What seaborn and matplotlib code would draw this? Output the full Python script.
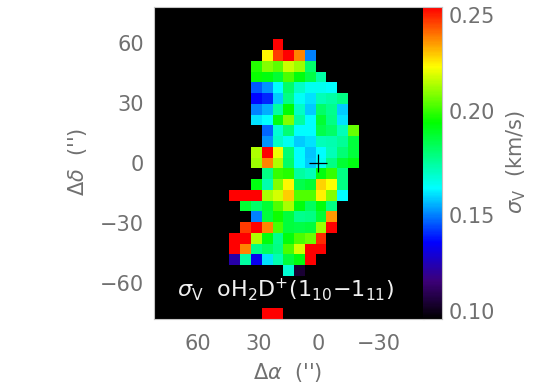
import numpy as np
import pandas as pd
import matplotlib
matplotlib.use("Agg")
import matplotlib.pyplot as plt
from matplotlib.colors import LinearSegmentedColormap
from matplotlib.ticker import FixedLocator, FixedFormatter
import seaborn as sns

# Map values (km/s), one list per row of the grid, top to bottom
row_03 = [.25]
row_04 = [.222, .243, .25, .235, .15]
row_05 = [.198, .208, .204, .216, .211, .181]
row_06 = [.195, .193, .188, .202, .193, .186, .174]
row_07 = [.146, .152, .163, .182, .170, .165, .165, .163]
row_08 = [.137, .141, .158, .178, .164, .160, .172, .174, .178]
row_09 = [.15, .155, .175, .194, .17, .158, .182, .177, .158]
row_10 = [.16, .163, .192, .208, .175, .163, .188, .178, .160]
row_11 = [.147, .168, .18, .163, .163, .185, .182, .172, .205]
row_12 = [.152, .170, .165, .158, .160, .172, .173, .176, .187]
row_13 = [.213, .25, .220, .18, .163, .157, .163, .172, .18, .187]
row_14 = [.211, .235, .213, .182, .163, .158, .165, .178, .188, .192]
row_15 = [.178, .2, .198, .175, .172, .193, .2, .178]
row_16 = [.192, .173, .208, .222, .185, .188, .226, .221, .178]
row_17 = [.25, .25, .25, .212, .217, .227, .203, .203, .223, .208, .163]
row_18 = [.188, .182, .188, .203, .212, .193, .183, .193, .178]
row_19 = [.15, .187, .196, .187, .177, .178, .188, .233]
row_20 = [.243, .25, .235, .202, .187, .186, .187, .211, .25]
row_21 = [.25, .25, .213, .193, .177, .193, .202, .206, .245]
row_22 = [.25, .235, .178, .183, .178, .202, .217, .25, .25]
row_23 = [.125, .175, .135, .16, .173, .187, .193, .25]
row_24 = [.168, .108]
row_28 = [.25, .25]

rows = [3, 4, 5, 6, 7, 8, 9, 10, 11, 12, 13, 14, 15, 16, 17, 18, 19, 20, 21, 22, 23, 24, 28]
first_col = [11, 10, 9, 9, 9, 9, 9, 9, 10, 10, 9, 9, 10, 9, 7, 8, 9, 8, 7, 7, 7, 12, 10]
values = [row_03, row_04, row_05, row_06, row_07, row_08, row_09, row_10, row_11, row_12,
          row_13, row_14, row_15, row_16, row_17, row_18, row_19, row_20, row_21, row_22,
          row_23, row_24, row_28]

x_ticks = [60, 30, 0, -30]
y_ticks = [60, 30, 0, -30, -60]
cbar_ticks = [0.10, 0.15, 0.20, 0.25]
cbar_minor = [0.125, 0.175, 0.225]
n_rows, n_cols = 29, 25
cell = 5.38        # arcsec per pixel of the map
ra_left = 82.0     # offset at the left edge
dec_top = 78.25    # offset at the top edge

grid = np.full((n_rows, n_cols), np.nan)
for r, c, v in zip(rows, first_col, values):
    grid[r, c:c + len(v)] = v
df = pd.DataFrame(grid)

sns.set_theme(style="white")
GRAY = "#707070"
plt.rcParams.update({
    "font.family": ["DejaVu Sans"],
    "mathtext.fontset": "custom",
    "mathtext.rm": "DejaVu Sans",
    "mathtext.it": "DejaVu Sans:italic",
    "mathtext.default": "regular",
    "axes.unicode_minus": True,
})

cmap = LinearSegmentedColormap.from_list("idl_rainbow", [
    (0.00, "#000000"), (0.12, "#3c0078"), (0.245, "#0000ff"), (0.42, "#00ffff"),
    (0.63, "#00ff00"), (0.81, "#ffff00"), (1.00, "#ff0000"),
], N=256)

W, H = 545, 389
fig = plt.figure(figsize=(W / 100, H / 100), dpi=100)
ax = fig.add_axes([154 / W, 1 - 319 / H, 269.5 / W, 312 / H])
cax = fig.add_axes([423 / W, 1 - 319 / H, 19 / W, 312 / H])

sns.heatmap(df, ax=ax, cbar_ax=cax, cmap=cmap, vmin=0.10, vmax=0.25,
            xticklabels=False, yticklabels=False, square=False, linewidths=0)
ax.set_facecolor("black")

FS = 15
ax.set_xticks([(ra_left - v) / cell for v in x_ticks])
ax.set_xticklabels([str(v).replace("-", "\u2212") for v in x_ticks])
ax.set_yticks([(dec_top - v) / cell for v in y_ticks])
ax.set_yticklabels([str(v).replace("-", "\u2212") for v in y_ticks])
ax.tick_params(axis="both", length=0, labelsize=FS, labelcolor=GRAY, bottom=False, left=False)
ax.tick_params(axis="x", pad=11)
ax.tick_params(axis="y", pad=7, labelrotation=0)
for name, s in ax.spines.items():
    s.set_visible(name in ("left", "bottom", "top"))
    s.set_color("#c4c4c4")
    s.set_linewidth(0.8)

ax.set_xlabel("\u0394$\\mathit{\\alpha}$  ('')", fontsize=FS, color=GRAY, va="center")
ax.xaxis.set_label_coords(0.495, -0.173)
ax.set_ylabel("\u0394$\\mathit{\\delta}$  ('')", fontsize=FS, color=GRAY, va="center")
ax.yaxis.set_label_coords(-0.283, 0.505)

# Marker at the map centre
ax.plot([ra_left / cell], [dec_top / cell], marker="+", ms=13, mew=0.9, color="black", ls="none")

ax.text(0.085, 0.095, "$\\mathit{\\sigma}_{V}$  oH$_{2}$D$^{+}$(1$_{10}$\u22121$_{11}$)",
        transform=ax.transAxes, color="#f0f0f0", fontsize=FS + 1, va="center", ha="left")

# Colour bar
cax.yaxis.set_major_locator(FixedLocator(cbar_ticks))
cax.yaxis.set_major_formatter(FixedFormatter([f"{v:.2f}" for v in cbar_ticks]))
cax.yaxis.set_minor_locator(FixedLocator(cbar_minor))
cax.yaxis.tick_right()
cax.tick_params(axis="y", which="both", direction="in", length=2.5, width=0.7, color="#888888",
                labelsize=FS, labelcolor=GRAY, pad=5, right=True)
labels = cax.get_yticklabels()
labels[0].set_va("baseline")
labels[-1].set_va("top")
for name, s in cax.spines.items():
    s.set_visible(False)
    s.set_color("#c4c4c4")
    s.set_linewidth(0.8)
cax.spines["right"].set_visible(True)
cax.spines["top"].set_visible(True)
cax.spines["bottom"].set_visible(True)
cax.collections[0].set_edgecolor("face")
cax.set_zorder(3)
fig.text(516 / W, 1 - 162 / H, "$\\mathit{\\sigma}_{V}$  (km/s)", rotation=90, fontsize=FS,
         color=GRAY, ha="center", va="center")

fig.savefig("out.png", dpi=100, facecolor="white")
